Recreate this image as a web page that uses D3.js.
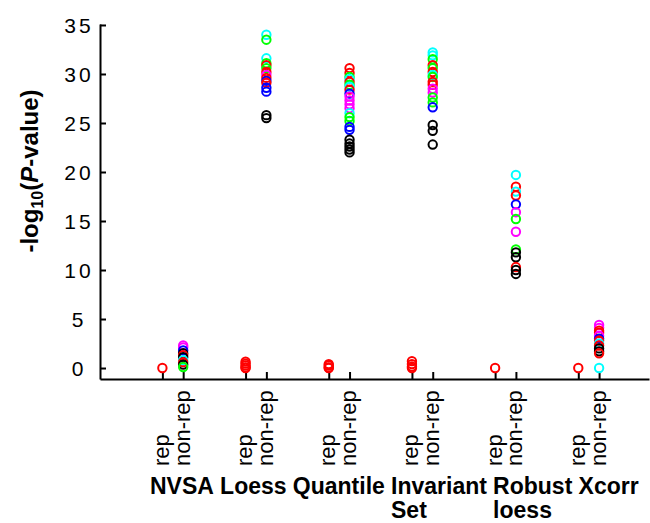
<!DOCTYPE html>
<html>
<head>
<meta charset="utf-8">
<script src="https://cdn.jsdelivr.net/npm/d3@7"></script>
<style>
  body { margin: 0; background: #fff; }
  svg { display: block; font-family: Arial, "Liberation Sans", sans-serif; }
</style>
</head>
<body>
<svg id="chart" width="650" height="523"></svg>
<script>
// methods, with their label broken into lines as in the figure
var methodLines = [["NVSA"], ["Loess"], ["Quantile"], ["Invariant", "Set"], ["Robust", "loess"], ["Xcorr"]];
var tickNames = ["rep", "non-rep"];
var yTicks = [0, 5, 10, 15, 20, 25, 30, 35];

// -log10(P) for the "rep" probes (all drawn red)
var repValues = [
    [0],
    [0.65, 0.45, 0.25, 0.05, 0],
    [0.4, 0.25, 0.05, 0],
    [0.7, 0.4, 0.15, 0],
    [0],
    [0]
];

// -log10(P) for the "non-rep" probes, one colour code per value
var nonRepValues = [
    [2.3, 2.1, 1.8, 1.5, 1.3, 1.1, 0.8, 0.6, 0.35, 0.1],
    [34.0, 33.5, 31.6, 31.1, 30.9, 30.6, 30.2, 29.9, 29.6, 29.3, 29.1, 28.6, 28.2, 25.8, 25.5],
    [30.6, 30.1, 29.7, 29.5, 29.2, 28.9, 28.7, 28.4, 28.0, 27.7, 27.3, 26.9, 26.5, 26.0, 25.6, 25.2, 24.6, 24.3, 23.3, 22.9, 22.6, 22.3, 22.0],
    [32.2, 31.9, 31.5, 30.9, 30.6, 30.2, 29.9, 29.7, 29.2, 28.9, 28.5, 28.1, 27.6, 27.1, 26.6, 24.8, 24.2, 22.8],
    [19.7, 18.5, 18.0, 17.6, 16.7, 15.9, 15.2, 13.9, 12.1, 11.8, 11.3, 10.3, 10.0, 9.6],
    [4.4, 4.1, 3.8, 3.6, 3.3, 3.0, 2.8, 2.5, 2.3, 2.0, 1.7, 1.5, 0.0]
];
var nonRepColors = [
    "mmbkrkcrkg",
    "cgcgrgrmrbrbbkk",
    "rrgcrgcrbmmmmcggbbkkkkk",
    "ccgrgrcgrrmmggbkkk",
    "crcrbmgmgkkrkk",
    "mmrrmbrcrkkrc"
];

var colorOf = { r: "#ff0000", g: "#00ff00", b: "#0000ff", c: "#00ffff", m: "#ff00ff", k: "#000000" };

var svg = d3.select("#chart");

var x = d3.scaleLinear().domain([0.25, 6.85]).range([100, 649]);
var y = d3.scaleLinear().domain([-1.12, 35.1]).range([379, 24]);

var points = [];
var tickPos = [];
methodLines.forEach(function (m, i) {
    tickPos.push(i + 1, i + 1.25);
    repValues[i].forEach(function (v) {
        points.push({ pos: i + 1, v: v, c: "r" });
    });
    nonRepValues[i].forEach(function (v, j) {
        points.push({ pos: i + 1.25, v: v, c: nonRepColors[i][j] });
    });
});

// y axis
var yAxis = svg.append("g")
    .attr("transform", "translate(" + x.range()[0] + ",0)")
    .call(d3.axisLeft(y).tickValues(yTicks).tickSizeInner(-6).tickSizeOuter(0));
yAxis.select(".domain").attr("stroke-width", 2);
yAxis.selectAll(".tick line").attr("stroke-width", 2);
yAxis.selectAll(".tick text")
    .attr("x", -21)
    .attr("text-anchor", "middle")
    .style("font-size", "21px")
    .style("letter-spacing", "3px")
    .attr("dy", "0.36em")
    .attr("fill", "#000");

// x axis
var xAxis = svg.append("g")
    .attr("transform", "translate(0," + y.range()[0] + ")")
    .call(d3.axisBottom(x).tickValues(tickPos).tickSizeInner(-7).tickSizeOuter(0)
        .tickFormat(function (d, i) { return tickNames[i % 2]; }));
xAxis.select(".domain").attr("stroke-width", 2);
xAxis.selectAll(".tick line").attr("stroke-width", 2);
xAxis.selectAll(".tick text")
    .attr("transform", "rotate(-90)")
    .attr("x", -87)
    .attr("y", 0)
    .attr("dy", "0.27em")
    .attr("text-anchor", "start")
    .style("font-size", "22px")
    .attr("fill", "#000");

// method labels, laid out in one row like a typed line of text
var lx = 150;
var fs = 23;
methodLines.forEach(function (lines) {
    var w = 0;
    lines.forEach(function (txt, k) {
        var t = svg.append("text")
            .attr("x", lx)
            .attr("y", 494 + k * 24)
            .style("font-size", fs + "px")
            .style("font-weight", "bold")
            .text(txt);
        if (k === 0) w = t.node().getComputedTextLength();
    });
    lx += w + fs * 0.27;
});

// y title
var title = svg.append("text")
    .attr("transform", "translate(38,171) rotate(-90)")
    .attr("text-anchor", "middle")
    .style("font-size", "24px")
    .style("font-weight", "bold");
title.append("tspan").text("-log");
title.append("tspan").attr("dy", 5).style("font-size", "16px").text("10");
title.append("tspan").attr("dy", -5).text("(");
title.append("tspan").style("font-style", "italic").text("P");
title.append("tspan").text("-value)");

// markers
svg.append("g")
    .selectAll("circle")
    .data(points)
  .enter().append("circle")
    .attr("cx", function (d) { return x(d.pos); })
    .attr("cy", function (d) { return y(d.v); })
    .attr("r", 4.2)
    .attr("fill", "none")
    .attr("stroke", function (d) { return colorOf[d.c]; })
    .attr("stroke-width", 2);
</script>
</body>
</html>
